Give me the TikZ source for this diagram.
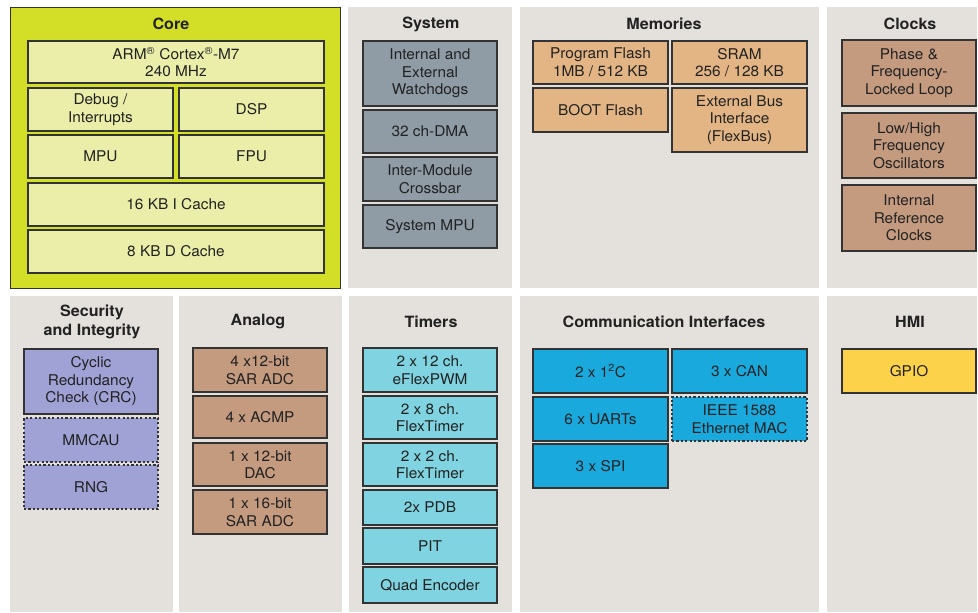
\documentclass[tikz,border=0pt]{standalone}
\usepackage{fontspec}
\setmainfont{TeX Gyre Heros}[FakeStretch=1.04]
\definecolor{panelgray}{HTML}{E4E1DD}
\definecolor{coreg}{HTML}{D3DE27}
\definecolor{corein}{HTML}{EAEEA9}
\definecolor{sysc}{HTML}{8F9BA5}
\definecolor{memc}{HTML}{E3B584}
\definecolor{clkc}{HTML}{C59B80}
\definecolor{secc}{HTML}{A0A2D6}
\definecolor{timc}{HTML}{80D3E0}
\definecolor{comc}{HTML}{1AA9DD}
\definecolor{gpioc}{HTML}{FDD24B}
\definecolor{boxline}{HTML}{333333}
\definecolor{textc}{HTML}{222222}
\tikzset{
  panel/.style={fill=panelgray, draw=none, inner sep=0pt},
  corepanel/.style={fill=coreg, draw=boxline, line width=1pt, inner sep=0pt},
  blk/.style={draw=boxline, line width=1.2pt, inner sep=0pt, align=center,
    font=\fontsize{14.8}{17.5}\selectfont, text=textc},
  dashedblk/.style={blk, dash pattern=on 2.2pt off 2.2pt},
  ttl/.style={font=\fontsize{15.5}{19}\selectfont\bfseries, text=textc, align=center, inner sep=0pt},
}
% #1 style, #2 x1, #3 y1, #4 x2, #5 y2, #6 name, #7 text
\newcommand\mkblk[7]{%
  \pgfmathsetmacro\bw{#4-#2}\pgfmathsetmacro\bh{#5-#3}%
  \pgfmathsetmacro\bcx{(#2+#4)/2}\pgfmathsetmacro\bcy{(#3+#5)/2}%
  \node[#1, minimum width=\bw pt, minimum height=\bh pt] (#6) at (\bcx,\bcy) {#7};}
\begin{document}
\begin{tikzpicture}[x=1pt,y=-1pt]
\fill[white] (0,0) rectangle (978,613);
\useasboundingbox (0,0) rectangle (978,613);

% ---------- Top row ----------
% Core
\mkblk{corepanel}{10}{7}{340}{288}{core}{}
\node[ttl] (coreT) at (171,24) {Core};
\mkblk{blk, fill=corein}{28}{41}{324}{83}{arm}{ARM\textsuperscript{®} Cortex\textsuperscript{®}-M7\\240 MHz}
\mkblk{blk, fill=corein}{28}{88}{173}{131}{dbg}{Debug /\\Interrupts}
\mkblk{blk, fill=corein}{179}{88}{324}{131}{dsp}{DSP}
\mkblk{blk, fill=corein}{28}{135}{173}{178}{mpu}{MPU}
\mkblk{blk, fill=corein}{179}{135}{324}{178}{fpu}{FPU}
\mkblk{blk, fill=corein}{28}{183}{324}{226}{icache}{16 KB I Cache}
\mkblk{blk, fill=corein}{28}{230}{324}{273}{dcache}{8 KB D Cache}

% System
\mkblk{panel}{348}{7}{512}{288}{sys}{}
\node[ttl] (sysT) at (431,24) {System};
\mkblk{blk, fill=sysc}{363}{41}{497}{106}{wd}{Internal and\\External\\Watchdogs}
\mkblk{blk, fill=sysc}{363}{110}{497}{153}{dma}{32 ch-DMA}
\mkblk{blk, fill=sysc}{363}{157}{497}{201}{xbar}{Inter-Module\\Crossbar}
\mkblk{blk, fill=sysc}{363}{205}{497}{248}{smpu}{System MPU}

% Memories
\mkblk{panel}{520}{7}{819}{288}{mem}{}
\node[ttl] (memT) at (664,24) {Memories};
\mkblk{blk, fill=memc}{533}{41}{668}{84}{pflash}{Program Flash\\1MB / 512 KB}
\mkblk{blk, fill=memc}{672}{41}{807}{84}{sram}{SRAM\\256 / 128 KB}
\mkblk{blk, fill=memc}{533}{88}{668}{132}{boot}{BOOT Flash}
\mkblk{blk, fill=memc}{672}{88}{807}{152}{ebi}{External Bus\\Interface\\(FlexBus)}

% Clocks
\mkblk{panel}{827}{7}{977}{288}{clk}{}
\node[ttl] (clkT) at (910,24) {Clocks};
\mkblk{blk, fill=clkc}{842}{40}{976}{106}{pll}{Phase \&\\Frequency-\\Locked Loop}
\mkblk{blk, fill=clkc}{842}{113}{976}{178}{osc}{Low/High\\Frequency\\Oscillators}
\mkblk{blk, fill=clkc}{842}{185}{976}{251}{irc}{Internal\\Reference\\Clocks}

% ---------- Bottom row ----------
% Security
\mkblk{panel}{10}{296}{173}{612}{sec}{}
\node[ttl] (secT) at (92,322) {Security\\and Integrity};
\mkblk{blk, fill=secc}{24}{349}{158}{414}{crc}{Cyclic\\Redundancy\\Check (CRC)}
\mkblk{dashedblk, fill=secc}{24}{418}{158}{462}{mmcau}{MMCAU}
\mkblk{dashedblk, fill=secc}{24}{465}{158}{509}{rng}{RNG}

% Analog
\mkblk{panel}{179}{296}{342}{612}{ana}{}
\node[ttl] (anaT) at (258,322) {Analog};
\mkblk{blk, fill=clkc}{193}{348}{327}{392}{adc1}{4 x12-bit\\SAR ADC}
\mkblk{blk, fill=clkc}{193}{396}{327}{438}{acmp}{4 x ACMP}
\mkblk{blk, fill=clkc}{193}{443}{327}{486}{dac}{1 x 12-bit\\DAC}
\mkblk{blk, fill=clkc}{193}{490}{327}{534}{adc2}{1 x 16-bit\\SAR ADC}

% Timers
\mkblk{panel}{349}{296}{512}{612}{tim}{}
\node[ttl] (timT) at (431,322) {Timers};
\mkblk{blk, fill=timc}{363}{348}{497}{392}{pwm}{2 x 12 ch.\\eFlexPWM}
\mkblk{blk, fill=timc}{363}{396}{497}{439}{ft8}{2 x 8 ch.\\FlexTimer}
\mkblk{blk, fill=timc}{363}{443}{497}{486}{ft2}{2 x 2 ch.\\FlexTimer}
\mkblk{blk, fill=timc}{363}{490}{497}{525}{pdb}{2x PDB}
\mkblk{blk, fill=timc}{363}{528}{497}{564}{pit}{PIT}
\mkblk{blk, fill=timc}{363}{567}{497}{603}{qe}{Quad Encoder}

% Communication Interfaces
\mkblk{panel}{520}{296}{819}{612}{com}{}
\node[ttl] (comT) at (664,322) {Communication Interfaces};
\mkblk{blk, fill=comc}{533}{349}{668}{393}{i2c}{2 x 1\textsuperscript{2}C}
\mkblk{blk, fill=comc}{672}{349}{807}{393}{can}{3 x CAN}
\mkblk{blk, fill=comc}{533}{397}{668}{441}{uart}{6 x UARTs}
\mkblk{dashedblk, fill=comc}{672}{397}{807}{441}{eth}{IEEE 1588\\Ethernet MAC}
\mkblk{blk, fill=comc}{533}{444}{668}{488}{spi}{3 x SPI}

% HMI
\mkblk{panel}{827}{296}{977}{612}{hmi}{}
\node[ttl] (hmiT) at (910,322) {HMI};
\mkblk{blk, fill=gpioc}{842}{349}{976}{393}{gpio}{GPIO}
\end{tikzpicture}
\end{document}
